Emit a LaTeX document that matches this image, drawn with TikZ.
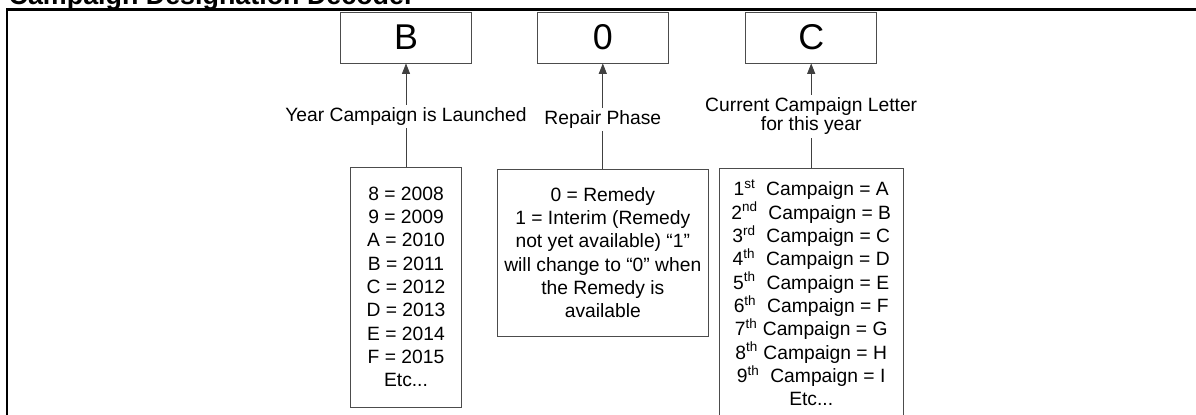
\documentclass[tikz,border=0pt]{standalone}
\usepackage{fontspec}
\setmainfont{Liberation Sans}
\usetikzlibrary{arrows.meta}

\begin{document}
\begin{tikzpicture}[
    digitbox/.style={draw=black!70, line width=0.6pt, minimum width=3.275cm,
      minimum height=1.275cm, inner sep=0pt, font=\fontsize{25.5}{30}\selectfont},
    listbox/.style={draw=black!70, line width=0.6pt, inner sep=0pt, align=center,
      font=\fontsize{13.7}{16.6}\selectfont},
    caption/.style={anchor=north, inner sep=0.06cm, align=center,
      font=\fontsize{13.7}{13.9}\selectfont},
    pointer/.style={draw=black!75, line width=0.6pt,
      -{Triangle[length=0.26cm,width=0.2cm]}},
    link/.style={draw=black!75, line width=0.6pt}
  ]
    \useasboundingbox (0,0) rectangle (29.9,-10.35);

    % Title cut by the top edge, and the frame below it
    \node[anchor=base west, inner sep=0pt, font=\fontsize{19.1}{23}\selectfont\bfseries]
      (title) at (0.21,-0.1) {Campaign Designation Decoder};
    \draw[line width=2pt] (0.175,-10.6) -- (0.175,-0.24) -- (30.2,-0.24);

    % The three characters of the designation
    \node[digitbox] (yearbox) at (10.15,-0.9375) {B};
    \node[digitbox] (phasebox) at (15.07,-0.9375) {0};
    \node[digitbox] (letterbox) at (20.28,-0.9375) {C};

    % What each character means
    \node[caption] (yearlabel) at (10.15,-2.62) {Year Campaign is Launched};
    \node[caption] (phaselabel) at (15.07,-2.7) {Repair Phase};
    \node[caption] (letterlabel) at (20.28,-2.37) {Current Campaign Letter\\for this year};

    % Lists of the possible values
    \node[listbox, minimum width=2.775cm, minimum height=6cm] (yearlist) at (10.15,-7.175)
      {8 = 2008\\9 = 2009\\A = 2010\\B = 2011\\C = 2012\\D = 2013\\E = 2014\\F = 2015\\Etc...};
    \node[listbox, minimum width=5.275cm, minimum height=4.175cm] (phaselist) at (15.07,-6.3125)
      {0 = Remedy\\1 = Interim (Remedy\\not yet available) “1”\\will change to “0” when\\the Remedy is\\available};
    \node[listbox, minimum width=4.6cm, minimum height=6.25cm] (letterlist) at (20.28,-7.325)
      {1\textsuperscript{st}\ \ Campaign = A\\
       2\textsuperscript{nd}\ \ Campaign = B\\
       3\textsuperscript{rd}\ \ Campaign = C\\
       4\textsuperscript{th}\ \ Campaign = D\\
       5\textsuperscript{th}\ \ Campaign = E\\
       6\textsuperscript{th}\ \ Campaign = F\\
       7\textsuperscript{th} Campaign = G\\
       8\textsuperscript{th} Campaign = H\\
       9\textsuperscript{th}\ \ Campaign = I\\
       Etc...};

    % Arrows up to the characters, lines up from the lists
    \draw[pointer] (yearlabel) -- (yearbox);
    \draw[pointer] (phaselabel) -- (phasebox);
    \draw[pointer] (letterlabel) -- (letterbox);
    \draw[link] (yearlist) -- (yearlabel);
    \draw[link] (phaselist) -- (phaselabel);
    \draw[link] (letterlist) -- (letterlabel);
  \end{tikzpicture}
\end{document}
